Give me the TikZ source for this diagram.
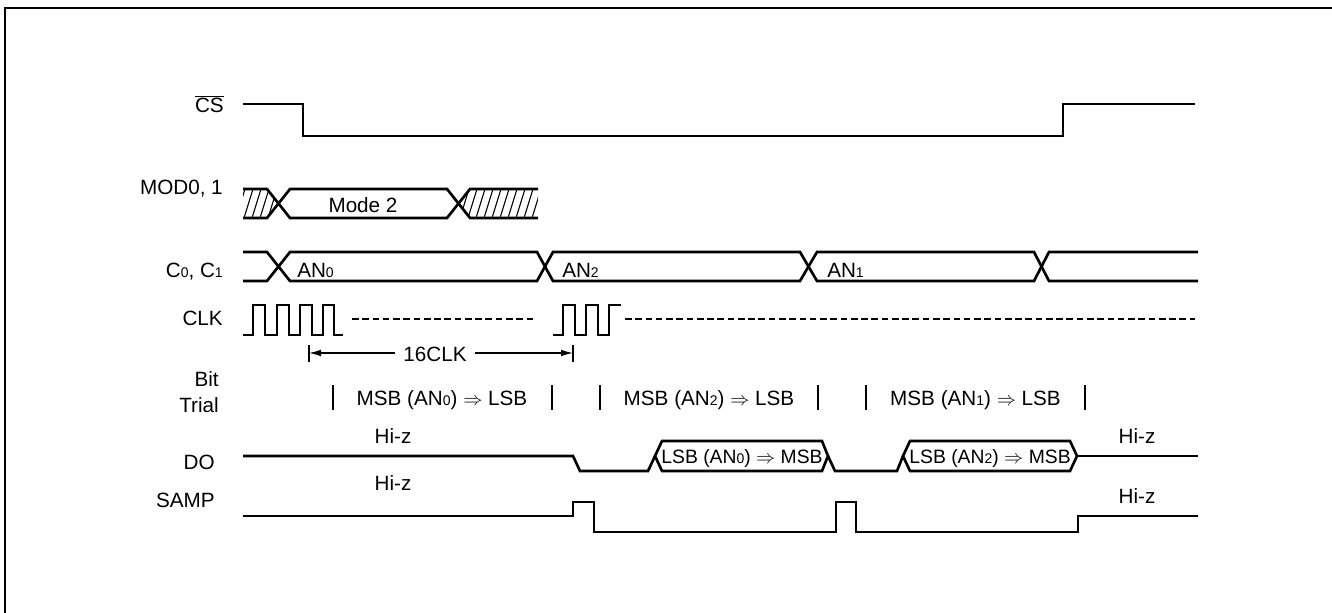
\documentclass[tikz,border=0pt]{standalone}
\usepackage{fontspec}
\setmainfont{Liberation Sans}
\usetikzlibrary{arrows.meta}
\newcommand\subdig[1]{\raisebox{-0.6pt}{\fontsize{10.5}{10.5}\selectfont #1}}
\begin{document}
\begin{tikzpicture}[x=0.75pt,y=-0.75pt,
  sig/.style={line width=2pt, line join=miter},
  hatchline/.style={line width=0.8pt},
  dashsig/.style={line width=2pt, dash pattern=on 5pt off 2.7pt},
  barline/.style={line width=2.2pt},
  dimline/.style={line width=0.9pt},
  lbl/.style={font=\fontsize{15.5}{18}\selectfont, inner sep=0pt},
  hexlbl/.style={font=\fontsize{14.5}{17}\selectfont, inner sep=0pt}]
\useasboundingbox (0,0) rectangle (1332,613);
% frame
\draw[line width=1.5pt] (5,613) -- (5,8) -- (1332,8);

% labels
\node[lbl, anchor=base east] (lcs) at (224,112.5) {$\overline{\mbox{CS}}$};
\node[lbl, anchor=base east] (lmod) at (223,195) {MOD0, 1};
\node[lbl, anchor=base east] (lc) at (223,277) {C\subdig{0}, C\subdig{1}};
\node[lbl, anchor=base east] (lclk) at (223,325) {CLK};
\node[lbl, anchor=base east, align=right, font=\fontsize{15.5}{18.8}\selectfont] (lbit) at (219,412) {Bit\\Trial};
\node[lbl, anchor=base east] (ldo) at (215,469) {DO};
\node[lbl, anchor=base east] (lsamp) at (215,507) {SAMP};

% CS
\draw[sig] (243,104) -- (303,104) -- (303,136) -- (1063,136) -- (1063,104) -- (1195,104);

% MOD0,1
\begin{scope}
  \clip (243,189) -- (267,189) -- (278.5,203.5) -- (267,218) -- (243,218) -- cycle;
  \foreach \x in {236,244,...,284} \draw[hatchline] (\x,218) -- ({\x+9},189);
\end{scope}
\begin{scope}
  \clip (458.5,203.5) -- (470,189) -- (538,189) -- (538,218) -- (470,218) -- cycle;
  \foreach \x in {452,460,...,540} \draw[hatchline] (\x,218) -- ({\x+9},189);
\end{scope}
\draw[sig] (243,189) -- (267,189) -- (290,218) -- (447,218) -- (470,189) -- (538,189);
\draw[sig] (243,218) -- (267,218) -- (290,189) -- (447,189) -- (470,218) -- (538,218);
\node[lbl, anchor=base] (mode2) at (363,213) {Mode 2};

% C0, C1
\draw[sig] (243,252) -- (267,252) -- (290,281) -- (537,281) -- (553,252) -- (800,252) -- (817,281) -- (1034,281) -- (1049,252) -- (1198,252);
\draw[sig] (243,281) -- (267,281) -- (290,252) -- (537,252) -- (553,281) -- (800,281) -- (817,252) -- (1034,252) -- (1049,281) -- (1198,281);
\node[lbl, anchor=base west] (an0) at (297,277) {AN\subdig{0}};
\node[lbl, anchor=base west] (an2) at (562,277) {AN\subdig{2}};
\node[lbl, anchor=base west] (an1) at (827,277) {AN\subdig{1}};

% CLK
\draw[sig] (243,335) -- (253,335) -- (253,305) -- (265,305) -- (265,335)
  -- (277,335) -- (277,305) -- (289,305) -- (289,335)
  -- (300,335) -- (300,305) -- (312,305) -- (312,335)
  -- (323,335) -- (323,305) -- (334,305) -- (334,335) -- (343,335);
\draw[dashsig] (352,319) -- (536,319);
\draw[sig] (553,335) -- (563,335) -- (563,305) -- (575,305) -- (575,335)
  -- (586,335) -- (586,305) -- (598,305) -- (598,335)
  -- (609,335) -- (609,305) -- (621,305);
\draw[dashsig] (625,319) -- (1195,319);

% 16CLK dimension
\coordinate (tl) at (309,353);
\coordinate (tr) at (573,353);
\draw[dimline] (309,345) -- (309,362);
\draw[dimline] (573,345) -- (573,362);
\node[lbl, anchor=base, inner xsep=6pt] (clk16) at (435,361) {16CLK};
\draw[dimline, -{Latex[length=9pt,width=5pt]}] (clk16.west |- tl) -- (tl);
\draw[dimline, -{Latex[length=9pt,width=5pt]}] (clk16.east |- tr) -- (tr);

% Bit trial
\foreach \x in {333,552,600,818,866,1085} \draw[barline] (\x,385) -- (\x,410);
\node[lbl, anchor=base] (bt0) at (442,405) {MSB (AN\subdig{0}) $\Rightarrow$ LSB};
\node[lbl, anchor=base] (bt2) at (709,405) {MSB (AN\subdig{2}) $\Rightarrow$ LSB};
\node[lbl, anchor=base] (bt1) at (975.5,405) {MSB (AN\subdig{1}) $\Rightarrow$ LSB};

% DO
\draw[sig] (243,456) -- (573,456) -- (580,471) -- (648,471) -- (655,456);
\draw[sig] (655,456) -- (662,441) -- (822,441) -- (828,456) -- (822,471) -- (662,471) -- cycle;
\draw[sig] (828,456) -- (835,471) -- (897,471) -- (903,456);
\draw[sig] (903,456) -- (910,441) -- (1070,441) -- (1077,456) -- (1070,471) -- (910,471) -- cycle;
\draw[sig] (1077,456) -- (1198,456);
\node[hexlbl, anchor=base] (do0) at (742,463) {LSB (AN\subdig{0}) $\Rightarrow$ MSB};
\node[hexlbl, anchor=base] (do2) at (990,463) {LSB (AN\subdig{2}) $\Rightarrow$ MSB};
\node[lbl, anchor=base] (hz1) at (393,443) {Hi-z};
\node[lbl, anchor=base] (hz2) at (1137,443) {Hi-z};

% SAMP
\draw[sig] (243,516) -- (573,516) -- (573,502) -- (594,502) -- (594,532) -- (836,532) -- (836,502) -- (856,502) -- (856,532) -- (1078,532) -- (1078,516) -- (1198,516);
\node[lbl, anchor=base] (hz3) at (393,490) {Hi-z};
\node[lbl, anchor=base] (hz4) at (1137,503) {Hi-z};
\end{tikzpicture}
\end{document}
